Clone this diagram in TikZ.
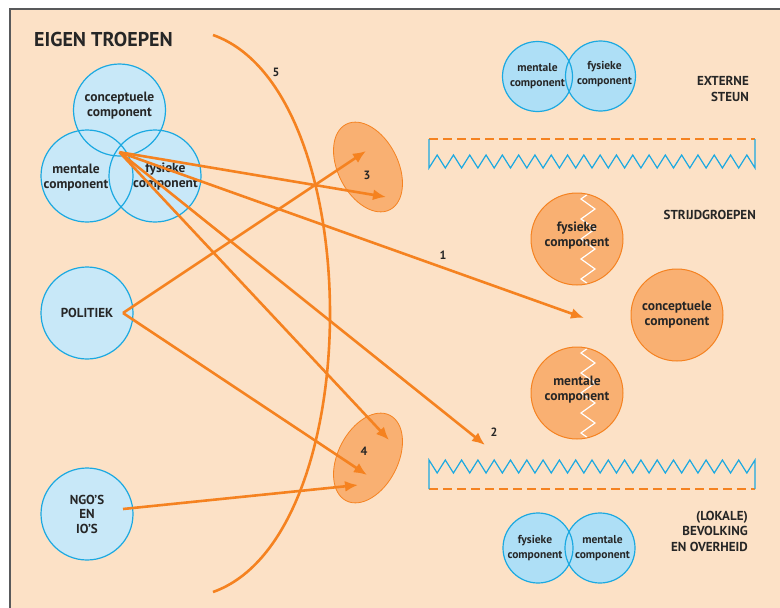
\documentclass[tikz,border=0pt]{standalone}
\usepackage{fontspec}
\setmainfont{PT Sans}
\usetikzlibrary{calc,arrows.meta,shapes.geometric}
\definecolor{peach}{HTML}{FCE1C6}
\definecolor{frameg}{HTML}{58595B}
\definecolor{orangeline}{HTML}{F58220}
\definecolor{orangefill}{HTML}{F9B072}
\definecolor{cyanline}{HTML}{1BA9E1}
\definecolor{bluefill}{HTML}{C8E8F8}
\definecolor{bluefillb}{HTML}{AEDFF6}
\definecolor{textgray}{HTML}{262626}
\tikzset{
  >={Latex[length=13pt,width=11pt]},
  txt/.style={text=textgray,font=\fontsize{13.5}{15}\selectfont\bfseries,align=center,inner sep=0pt},
  smalltxt/.style={txt,font=\fontsize{11.5}{15}\selectfont\bfseries},
  captxt/.style={txt,font=\fontsize{13}{15.5}\selectfont\bfseries},
  numtxt/.style={txt,font=\fontsize{12}{14}\selectfont\bfseries},
  blueline/.style={draw=cyanline,line width=1.2pt},
  bluecirc/.style={circle,fill=bluefill,minimum size=92pt,inner sep=0pt,txt},
  smallcirc/.style={circle,fill=bluefillb,minimum size=70pt,inner sep=0pt,smalltxt},
  orgcirc/.style={circle,draw=orangeline,line width=1pt,fill=orangefill,minimum size=92pt,inner sep=0pt,txt},
  orgell/.style={ellipse,draw=orangeline,line width=0.8pt,fill=orangefill,minimum width=96pt,minimum height=60pt,inner sep=0pt},
  arr/.style={->,draw=orangeline,line width=2.6pt},
  dashline/.style={draw=orangeline,line width=1.5pt,dash pattern=on 9pt off 5pt},
  zig/.style={draw=white,line width=1.2pt},
  zigfill/.style={path picture={\draw[zig] ([xshift=18pt,yshift=4pt]path picture bounding box.north)
      \foreach \k in {1,...,6}{ -- ++(-14,10) -- ++(14,10)};}},
}
\begin{document}
\begin{tikzpicture}[x=1pt,y=-1pt]
\useasboundingbox (0,0) rectangle (780,608);
% background and frame
\fill[peach] (10,9) rectangle (780,608);
\draw[frameg,line width=2pt] (10,608) -- (10,9) -- (780,9);
\node[txt,font=\fontsize{20}{24}\selectfont\bfseries,anchor=west] (title) at (34,39) {EIGEN TROEPEN};

% boundary 5
\draw[orangeline,line width=2.6pt] (213,35) .. controls (369,90) and (369,537) .. (213,592);
\node[numtxt] (n5) at (276,72) {5};

% influence areas
\node[orgell,rotate=-63] (ell3) at (368,167) {};
\node[orgell,rotate=63] (ell4) at (368,458) {};
\node[numtxt] (n3) at (367,175) {3};
\node[numtxt] (n4) at (364,451) {4};

% own troops
\node[bluecirc,label={[txt,yshift=4.5pt]center:{conceptuele\\component}}] (conc) at (119.5,110) {};
\node[bluecirc,label={[txt,xshift=-11pt,yshift=-2pt]center:{mentale\\component}}] (ment) at (87,176) {};
\node[bluecirc,label={[txt,xshift=10.5pt,yshift=-1pt]center:{fysieke\\component}}] (fys) at (155,176) {};
\foreach \n in {conc,ment,fys}
  \draw[blueline] (\n) circle[radius=46pt];
\node[bluecirc,blueline,captxt] (pol) at (87,313) {POLITIEK};
\node[bluecirc,blueline,captxt,font=\fontsize{13}{14.5}\selectfont\bfseries] (ngo) at (87,514) {NGO’S\\EN\\IO’S};

% external support
\node[smallcirc] (xment) at (537.5,76.5) {mentale\\component};
\node[smallcirc,label={[smalltxt,xshift=4pt,yshift=2pt]center:{fysieke\\component}}] (xfys) at (600.5,76) {};
\foreach \n in {xment,xfys}
  \draw[blueline] (\n) circle[radius=35pt];
\node[captxt,align=right,anchor=east] (extern) at (749,89) {EXTERNE\\STEUN};

% upper screen
\draw[dashline] (429,139) -- (755,139);
\draw[blueline] (429,139) -- (429,168)
  \foreach \k in {1,...,20}{ -- ++(8.15,-13) -- ++(8.15,13)} -- (755,139);

% battle groups
\node[orgcirc,zigfill,label={[txt,yshift=3.5pt]center:{fysieke\\component}}] (sfys) at (577,239) {};
\node[orgcirc] (sconc) at (677,315) {conceptuele\\component};
\node[orgcirc,zigfill,label={[txt,yshift=3.5pt]center:{mentale\\component}}] (sment) at (577,393) {};
\node[captxt,anchor=east] (strijd) at (756,215) {STRIJDGROEPEN};

% lower screen
\draw[dashline] (429,489) -- (755,489);
\draw[blueline] (429,489) -- (429,460)
  \foreach \k in {1,...,20}{ -- ++(8.15,13) -- ++(8.15,-13)} -- (755,489);

% population
\node[smallcirc,label={[smalltxt,xshift=-3pt]center:{fysieke\\component}}] (lfys) at (538,548) {};
\node[smallcirc,label={[smalltxt,xshift=2.5pt]center:{mentale\\component}}] (lment) at (600,548) {};
\foreach \n in {lfys,lment}
  \draw[blueline] (\n) circle[radius=35pt];
\node[captxt,align=right,anchor=east] (bevolk) at (748,531) {(LOKALE)\\BEVOLKING\\EN OVERHEID};

% arrows
\coordinate (hub) at ([yshift=4pt]conc.south);
\coordinate (polout) at ([xshift=36pt]pol.center);
\coordinate (ngoout) at ([xshift=36pt,yshift=5pt]ngo.center);
\coordinate (t3a) at ($(ell3)+(-2,-16)$);
\coordinate (t3b) at ($(ell3)+(18,30)$);
\coordinate (t4a) at ($(ell4)+(21,-18)$);
\coordinate (t4b) at ($(ell4)+(-1,17)$);
\coordinate (t4c) at ($(ell4)+(-10,27)$);
\coordinate (tip1) at (584,318);
\coordinate (tip2) at (485,445);
\node[numtxt] (n1) at (443,255) {1};
\node[numtxt] (n2) at (494,432) {2};
\draw[arr] (hub) -- (t3b);
\draw[arr] (hub) -- (tip1);
\draw[arr] (hub) -- (t4a);
\draw[arr] (hub) -- (tip2);
\draw[arr] (polout) -- (t3a);
\draw[arr] (polout) -- (t4b);
\draw[arr] (ngoout) -- (t4c);
\end{tikzpicture}
\end{document}
